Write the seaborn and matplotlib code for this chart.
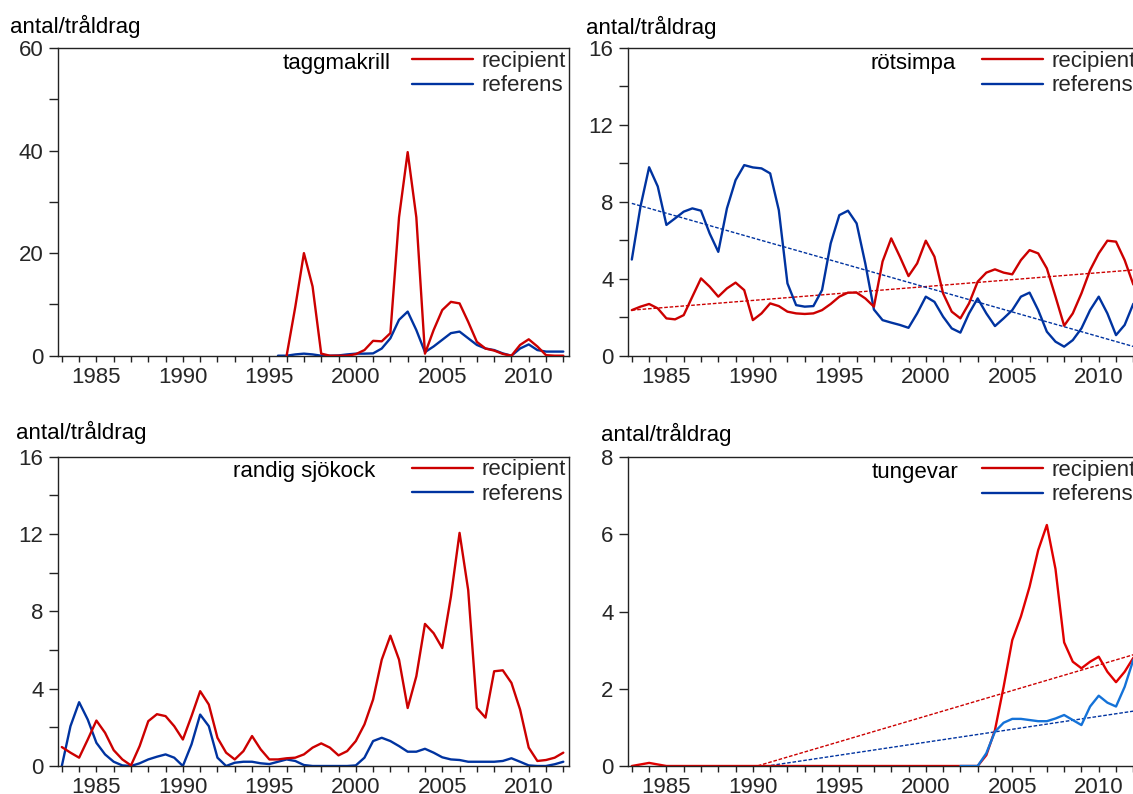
import numpy as np
import pandas as pd
import matplotlib
matplotlib.use("Agg")
import matplotlib.pyplot as plt
from matplotlib.lines import Line2D
from matplotlib.ticker import MultipleLocator
import seaborn as sns

nan = np.nan

# half-year sampling of the curves, 1983 .. 2012
years = np.arange(1983, 2012.01, 0.5)

# --- taggmakrill (top left) ---
tagg_recipient = [nan]*26 + [
    0, 9.5, 20.0, 13.5, 0.4, 0, 0, 0, 0.3, 1.1, 2.9, 2.8, 4.4, 27.0, 39.7,
    27.0, 0.4, 5.0, 8.9, 10.5, 10.2, 6.6, 2.7, 1.4, 1.0, 0.35, 0, 2.1, 3.2,
    1.8, 0.1, 0, 0]
tagg_referens = [nan]*25 + [
    0, 0, 0.25, 0.4, 0.25, 0, 0, 0.05, 0.25, 0.4, 0.4, 0.45, 1.4, 3.4, 7.0,
    8.6, 5.0, 0.7, 1.8, 3.1, 4.4, 4.7, 3.4, 2.1, 1.4, 1.1, 0.45, 0, 1.4, 2.2,
    1.1, 0.8, 0.8, 0.8]

# --- rötsimpa (top right) ---
rot_recipient = [
    2.37, 2.55, 2.69, 2.46, 1.94, 1.89, 2.11, 3.07, 4.02, 3.59, 3.07, 3.5,
    3.8, 3.41, 1.85, 2.2, 2.72, 2.58, 2.29, 2.2, 2.17, 2.2, 2.37, 2.69, 3.07,
    3.28, 3.28, 2.98, 2.55, 4.9, 6.1, 5.15, 4.14, 4.8, 5.98, 5.15, 3.24, 2.29,
    1.94, 2.72, 3.85, 4.32, 4.49, 4.32, 4.23, 4.97, 5.49, 5.32, 4.54, 3.07,
    1.56, 2.2, 3.24, 4.45, 5.32, 5.98, 5.93, 4.97, 3.7]
rot_referens = [
    5.0, 7.75, 9.8, 8.8, 6.8, 7.14, 7.49, 7.66, 7.54, 6.36, 5.4, 7.66, 9.13,
    9.91, 9.79, 9.74, 9.48, 7.57, 3.76, 2.63, 2.55, 2.58, 3.41, 5.84, 7.31,
    7.54, 6.88, 4.8, 2.4, 1.85, 1.72, 1.6, 1.45, 2.2, 3.07, 2.8, 2.03, 1.42,
    1.2, 2.2, 2.98, 2.2, 1.54, 1.94, 2.37, 3.07, 3.28, 2.37, 1.25, 0.73,
    0.47, 0.81, 1.42, 2.37, 3.07, 2.2, 1.07, 1.6, 2.7]
rot_trend_years = [1983, 2012]
rot_trend_recipient = [2.37, 4.46]
rot_trend_referens = [7.92, 0.48]

# --- randig sjökock (bottom left) ---
sjo_recipient = [
    0.98, 0.69, 0.43, 1.37, 2.35, 1.72, 0.82, 0.34, 0.03, 1.03, 2.32, 2.68,
    2.58, 2.06, 1.37, 2.58, 3.87, 3.18, 1.46, 0.69, 0.34, 0.77, 1.55, 0.86,
    0.34, 0.34, 0.4, 0.43, 0.6, 0.95, 1.17, 0.95, 0.55, 0.77, 1.29, 2.15,
    3.44, 5.5, 6.74, 5.5, 3.0, 4.64, 7.35, 6.87, 6.1, 8.76, 12.06, 9.1, 3.0,
    2.5, 4.9, 4.95, 4.3, 2.92, 0.95, 0.26, 0.31, 0.43, 0.69]
sjo_referens = [
    0, 2.06, 3.3, 2.4, 1.2, 0.6, 0.22, 0.03, 0, 0.14, 0.34, 0.48, 0.6, 0.43,
    0, 1.12, 2.66, 2.06, 0.43, 0, 0.17, 0.22, 0.22, 0.14, 0.1, 0.22, 0.34,
    0.26, 0.05, 0, 0, 0, 0, 0, 0.03, 0.43, 1.29, 1.46, 1.29, 1.03, 0.74,
    0.74, 0.89, 0.69, 0.45, 0.34, 0.31, 0.22, 0.22, 0.22, 0.22, 0.26, 0.4,
    0.22, 0.03, 0, 0, 0.09, 0.22]

# --- tungevar (bottom right) ---
tunge_recipient = [0, 0.04, 0.08, 0.04] + [0]*37 + [
    0.28, 0.93, 2.05, 3.26, 3.87, 4.64, 5.59, 6.24, 5.1, 3.2, 2.7, 2.53, 2.7,
    2.83, 2.44, 2.17, 2.44, 2.8]
tunge_referens = [nan]*38 + [
    0, 0, 0, 0.33, 0.89, 1.12, 1.22, 1.22, 1.19, 1.16, 1.16, 1.23, 1.32,
    1.19, 1.06, 1.54, 1.82, 1.64, 1.54, 2.05, 2.75]
tunge_trend_years = [1983, 2012]
tunge_trend_recipient = [-0.96, 2.88]
tunge_trend_referens = [-0.525, 1.42]

panel_titles = ["taggmakrill", "rötsimpa", "randig sjökock", "tungevar"]
series_labels = ["recipient", "referens"]
ylabel_text = "antal/tråldrag"
xtick_years = [1985, 1990, 1995, 2000, 2005, 2010]

RED = "#CC0000"
BLUE = "#0033A0"
RED_B = "#E00000"
BLUE_B = "#1472D8"

sns.set_style("ticks")
plt.rcParams["font.family"] = ["Liberation Sans", "DejaVu Sans"]
plt.rcParams["font.size"] = 16

W, H = 1133, 794
fig = plt.figure(figsize=(W / 100, H / 100), dpi=100)

def fx(px):
    return px / W

def fy(py):
    return 1 - py / H

axw = 511 / W
rects = {
    0: [fx(57.5), fy(355.7), axw, 307.7 / H],
    1: [fx(627.5), fy(355.7), axw, 307.7 / H],
    2: [fx(57.5), fy(766.0), axw, 309.3 / H],
    3: [fx(627.5), fy(766.0), axw, 309.0 / H],
}
ylims = {0: (0, 60), 1: (0, 16), 2: (0, 16), 3: (0, 8)}
ymaj = {0: 20, 1: 4, 2: 4, 3: 2}
ymin = {0: 10, 1: 2, 2: 2, 3: None}
title_x = {0: 0.6526, 1: 0.643, 2: 0.621, 3: 0.647}
ylabel_pos = {0: (10.5, 26), 1: (586, 27), 2: (16, 432), 3: (601, 434)}

data = {
    0: (tagg_recipient, tagg_referens, None),
    1: (rot_recipient, rot_referens,
        (rot_trend_years, rot_trend_recipient, rot_trend_referens)),
    2: (sjo_recipient, sjo_referens, None),
    3: (tunge_recipient, tunge_referens,
        (tunge_trend_years, tunge_trend_recipient, tunge_trend_referens)),
}

for i in range(4):
    ax = fig.add_axes(rects[i])
    rec, ref, trend = data[i]
    cr, cb = (RED_B, BLUE_B) if i == 3 else (RED, BLUE)
    df = pd.DataFrame({"year": years, "recipient": rec, "referens": ref})
    if i == 3:
        order = [("recipient", cr, 2), ("referens", cb, 3)]
    else:
        order = [("referens", cb, 2), ("recipient", cr, 3)]
    for col, c, z in order:
        d = df[["year", col]].dropna()
        sns.lineplot(data=d, x="year", y=col, ax=ax, color=c, lw=1.7,
                     estimator=None, sort=False, zorder=z)
    if trend is not None:
        ty, tr, tb = trend
        tdf = pd.DataFrame({"year": ty, "r": tr, "b": tb})
        sns.lineplot(data=tdf, x="year", y="r", ax=ax, color=RED, lw=1.0,
                     estimator=None, linestyle=(0, (2.6, 1.3)), zorder=1)
        sns.lineplot(data=tdf, x="year", y="b", ax=ax, color=BLUE, lw=1.0,
                     estimator=None, linestyle=(0, (2.6, 1.3)), zorder=1)

    ax.set_xlim(1982.75, 2012.3)
    ax.set_ylim(*ylims[i])
    ax.set_xlabel("")
    ax.set_ylabel("")
    ax.set_xticks(xtick_years)
    ax.set_xticklabels([str(y) for y in xtick_years])
    ax.xaxis.set_minor_locator(MultipleLocator(1))
    ax.yaxis.set_major_locator(MultipleLocator(ymaj[i]))
    if ymin[i]:
        ax.yaxis.set_minor_locator(MultipleLocator(ymin[i]))
    ax.tick_params(axis="x", which="both", direction="out", length=4.5,
                   width=1.0, color="#222222", labelsize=16, pad=3.5)
    ax.tick_params(axis="y", which="both", direction="out", length=6.5,
                   width=1.0, color="#222222", labelsize=16, pad=3.5)
    ax.tick_params(top=False, right=False)
    for s in ax.spines.values():
        s.set_visible(True)
        s.set_linewidth(1.0)
        s.set_color("#222222")

    handles = [Line2D([], [], color=RED, lw=1.7),
               Line2D([], [], color=BLUE, lw=1.7)]
    ax.legend(handles, series_labels, loc="upper right",
              bbox_to_anchor=(1.0, 1.0), borderaxespad=0, borderpad=0.12,
              frameon=False, fontsize=16, handlelength=2.75,
              handletextpad=0.38, labelspacing=0.17)
    ax.text(title_x[i], 0.951, panel_titles[i], transform=ax.transAxes,
            ha="right", va="center", fontsize=16, color="black")

    lx, ly = ylabel_pos[i]
    fig.text(fx(lx), fy(ly), ylabel_text, ha="left", va="center",
             fontsize=16, color="black")

fig.savefig("out.png", dpi=100)
